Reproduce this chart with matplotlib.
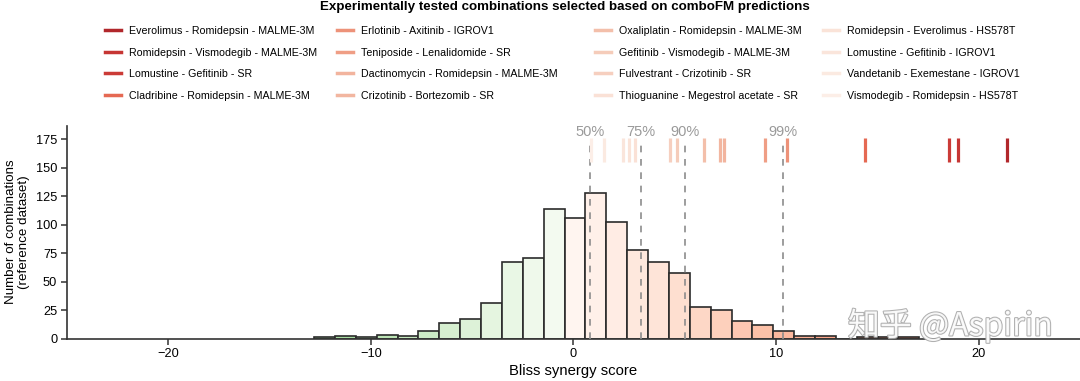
import numpy as np
import matplotlib
matplotlib.use("Agg")
import matplotlib.pyplot as plt
import matplotlib.patheffects as pe
import colorsys
from matplotlib.lines import Line2D

plt.rcParams['font.family'] = ['Liberation Sans', 'DejaVu Sans']

# histogram of the reference dataset (counts per bin)
bin_start = -12.8
bin_width = 1.03
counts = [1, 2, 1, 3, 2, 7, 14, 17, 31, 67, 71, 114, 106, 128, 102, 78, 67, 58,
          28, 25, 15, 12, 7, 2, 2, 0, 1, 1, 1]

# percentiles of the reference dataset
pct_labels = ["50%", "75%", "90%", "99%"]
pct_values = [0.81, 3.32, 5.5, 10.35]

# combinations selected based on comboFM predictions
combos = [
    "Everolimus - Romidepsin - MALME-3M",
    "Romidepsin - Vismodegib - MALME-3M",
    "Lomustine - Gefitinib - SR",
    "Cladribine - Romidepsin - MALME-3M",
    "Erlotinib - Axitinib - IGROV1",
    "Teniposide - Lenalidomide - SR",
    "Dactinomycin - Romidepsin - MALME-3M",
    "Crizotinib - Bortezomib - SR",
    "Oxaliplatin - Romidepsin - MALME-3M",
    "Gefitinib - Vismodegib - MALME-3M",
    "Fulvestrant - Crizotinib - SR",
    "Thioguanine - Megestrol acetate - SR",
    "Romidepsin - Everolimus - HS578T",
    "Lomustine - Gefitinib - IGROV1",
    "Vandetanib - Exemestane - IGROV1",
    "Vismodegib - Romidepsin - HS578T",
]
combo_scores = [21.42, 18.99, 18.53, 14.37, 10.55, 9.46, 7.41, 7.23,
                6.42, 5.10, 4.77, 3.02, 2.74, 2.46, 1.52, 0.85]


def desat(col, prop):
    h, l, s = colorsys.rgb_to_hls(*col[:3])
    return colorsys.hls_to_rgb(h, l, s * prop)


fig = plt.figure(figsize=(10.8, 3.81), dpi=100)
ax = fig.add_axes([0.062, 0.1115, 0.938, 0.5585])

edges = bin_start + bin_width * np.arange(len(counts) + 1)
centers = edges[:-1] + bin_width / 2
bar_colors = []
for c in centers:
    if c >= 0:
        bar_colors.append(plt.cm.Reds(min(c / 40, 1)))
    else:
        bar_colors.append(plt.cm.Greens(min(-c / 32, 1)))
ax.bar(edges[:-1], counts, width=bin_width, align='edge', color=bar_colors,
       edgecolor='#2b2b2b', linewidth=1.2, zorder=2)

# percentile lines
ax.vlines(pct_values, 0, 173, colors='#8c8c8c', linestyles=(0, (4, 4)),
          linewidth=1.2, zorder=3)
for lab, v in zip(pct_labels, pct_values):
    ax.text(v, 175.5, lab, ha='center', va='bottom', fontsize=10.5, color='#9a9a9a')

# selected combos as rug lines
line_cols = [desat(plt.cm.Reds(min(0.02 + 0.036 * s, 0.78)), 0.8) for s in combo_scores]
ax.vlines(combo_scores, 155, 176, colors=line_cols, linewidth=2.3, zorder=4)

ax.set_xlim(-25, 25)
ax.set_ylim(0, 187)
ax.set_xticks([-20, -10, 0, 10, 20])
ax.set_yticks(range(0, 176, 25))
ax.tick_params(labelsize=9.2, color='#333333', width=1.1, length=4, pad=3)
for s in ['top', 'right']:
    ax.spines[s].set_visible(False)
for s in ['left', 'bottom']:
    ax.spines[s].set_color('#333333')
    ax.spines[s].set_linewidth(1.2)
ax.set_xlabel("Bliss synergy score", fontsize=10.7, labelpad=3)
ax.set_ylabel("Number of combinations\n(reference dataset)", fontsize=9.6, labelpad=4)

# legend: four columns of four, placed one by one
fig.text(0.523, 0.982, "Experimentally tested combinations selected based on comboFM predictions",
         ha='center', va='center', fontsize=9.6, fontweight='bold')
col_x = [105, 337, 595, 823]
for k, x in enumerate(col_x):
    idx = range(4 * k, 4 * k + 4)
    hs = [Line2D([0], [0], color=line_cols[i], lw=2.5) for i in idx]
    lg = fig.legend(hs, [combos[i] for i in idx], loc='upper left',
                    bbox_to_anchor=(x / 1080, 1 - 26 / 381), frameon=False,
                    fontsize=7.7, handlelength=1.5, handletextpad=0.7,
                    labelspacing=1.08, borderpad=0, borderaxespad=0)

fig.text(0.88, 0.145, "知乎 @Aspirin", fontsize=23, color='white', alpha=0.9,
         ha='center', va='center', family=['Noto Sans CJK SC', 'DejaVu Sans'],
         path_effects=[pe.withStroke(linewidth=1.5, foreground='#a8a8a8')], zorder=10)

fig.savefig("out.png", dpi=100)
